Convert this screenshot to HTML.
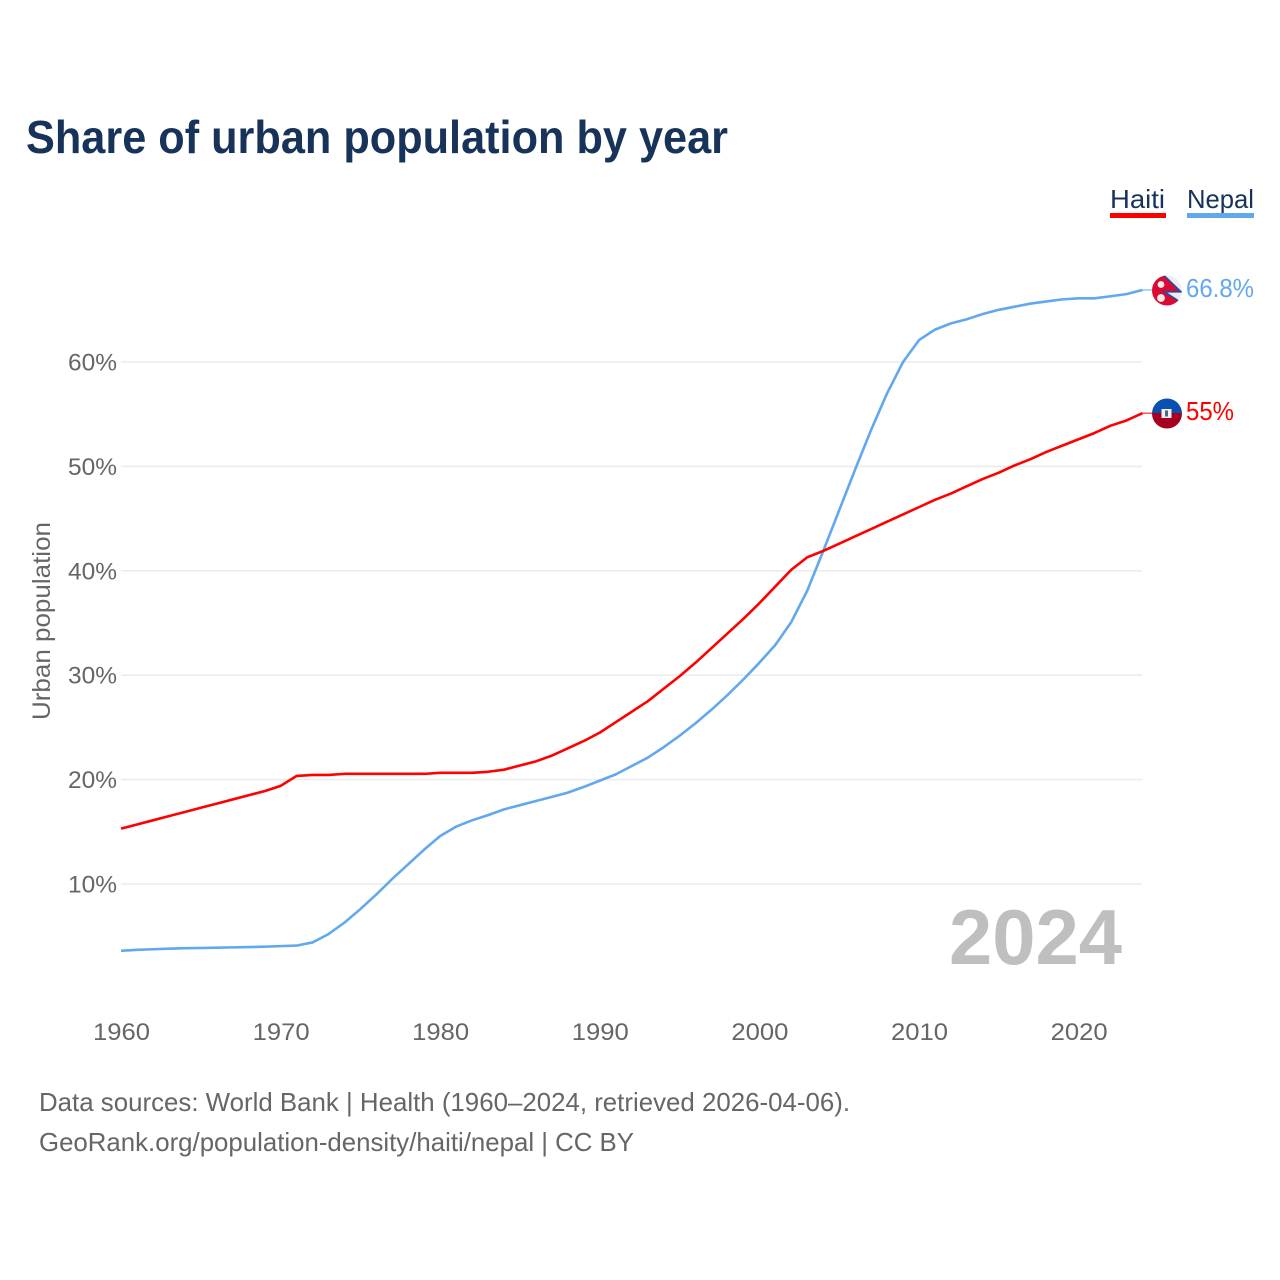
<!DOCTYPE html>
<html lang="en">
<head>
<meta charset="utf-8">
<title>Share of urban population by year</title>
<style>
html,body{margin:0;padding:0;background:#fff;width:1280px;height:1280px;overflow:hidden}
svg{display:block}
text{font-family:"Liberation Sans",sans-serif}
.tick{font-size:24px;fill:#666}
.foot{font-size:26px;fill:#666}
</style>
</head>
<body>
<svg id="chart" width="1280" height="1280" viewBox="0 0 1280 1280" xmlns="http://www.w3.org/2000/svg">
  <defs>
    <clipPath id="clip-nepal"><circle cx="1167" cy="290.5" r="15"/></clipPath>
    <clipPath id="clip-haiti"><circle cx="1167" cy="413.5" r="15"/></clipPath>
  </defs>
  <text x="26" y="153" font-size="46" font-weight="700" fill="#17335a" textLength="702" lengthAdjust="spacingAndGlyphs">Share of urban population by year</text>

  <g>
    <text x="1110" y="208" font-size="26" fill="#17335a" textLength="55" lengthAdjust="spacingAndGlyphs">Haiti</text>
    <rect x="1110" y="213" width="56" height="5" fill="#ff0000"/>
  </g>
  <g>
    <text x="1187" y="208" font-size="26" fill="#17335a" textLength="67" lengthAdjust="spacingAndGlyphs">Nepal</text>
    <rect x="1187" y="213" width="67" height="5" fill="#62a8ee"/>
  </g>

  <text transform="translate(50,621) rotate(-90)" text-anchor="middle" font-size="25" fill="#666" textLength="198" lengthAdjust="spacingAndGlyphs">Urban population</text>

  <g id="grid"></g>
  <g id="yticks"></g>
  <g id="xticks"></g>

  <text x="1122" y="964" text-anchor="end" font-size="78" font-weight="700" fill="#bfbfbf" textLength="173" lengthAdjust="spacingAndGlyphs">2024</text>

  <g id="series"></g>

  <g clip-path="url(#clip-nepal)">
    <rect x="1152" y="275" width="30" height="31" fill="#eeeeee"/>
    <path d="M1152 275 L1163.5 275 L1181 291.8 L1164.5 291.8 L1181 302.5 L1181 306 L1152 306 Z" fill="#dc0a32"/>
    <path d="M1163.5 275 L1181 291.8 L1164.5 291.8 L1181 302.5" fill="none" stroke="#1d4fa8" stroke-width="1.6"/>
    <circle cx="1161" cy="284.5" r="3.4" fill="#eeeeee"/>
    <circle cx="1161" cy="298" r="3.9" fill="#eeeeee"/>
  </g>
  <g clip-path="url(#clip-haiti)">
    <rect x="1152" y="398" width="30" height="15" fill="#0a50b0"/>
    <rect x="1152" y="413" width="30" height="16" fill="#a50020"/>
    <rect x="1161.5" y="409" width="10" height="9" fill="#f2f2f2"/>
    <rect x="1165" y="410.5" width="3" height="6" fill="#4a6a80"/>
  </g>

  <text x="1186" y="297" font-size="26" fill="#62a8ee" textLength="68" lengthAdjust="spacingAndGlyphs">66.8%</text>
  <text x="1186" y="420" font-size="26" fill="#ff0000" textLength="48" lengthAdjust="spacingAndGlyphs">55%</text>

  <text class="foot" x="39" y="1111" textLength="811" lengthAdjust="spacingAndGlyphs">Data sources: World Bank | Health (1960–2024, retrieved 2026-04-06).</text>
  <text class="foot" x="39" y="1151" textLength="595" lengthAdjust="spacingAndGlyphs">GeoRank.org/population-density/haiti/nepal | CC BY</text>
</svg>
<script>
var years = [1960,1961,1962,1963,1964,1965,1966,1967,1968,1969,1970,1971,1972,1973,1974,1975,1976,1977,1978,1979,1980,1981,1982,1983,1984,1985,1986,1987,1988,1989,1990,1991,1992,1993,1994,1995,1996,1997,1998,1999,2000,2001,2002,2003,2004,2005,2006,2007,2008,2009,2010,2011,2012,2013,2014,2015,2016,2017,2018,2019,2020,2021,2022,2023,2024];
var haitiValues = [15.3,15.7,16.1,16.5,16.9,17.3,17.7,18.1,18.5,18.9,19.4,20.35,20.45,20.45,20.55,20.55,20.55,20.55,20.55,20.55,20.65,20.65,20.65,20.75,20.95,21.35,21.75,22.3,23.0,23.7,24.5,25.5,26.5,27.5,28.7,29.9,31.2,32.6,34.0,35.4,36.9,38.5,40.1,41.3,41.9,42.6,43.3,44.0,44.7,45.4,46.1,46.8,47.4,48.1,48.8,49.4,50.1,50.7,51.4,52.0,52.6,53.2,53.9,54.4,55.1];
var nepalValues = [3.6,3.7,3.75,3.8,3.85,3.87,3.9,3.93,3.96,4.0,4.05,4.1,4.4,5.2,6.3,7.6,9.0,10.5,11.9,13.3,14.6,15.5,16.1,16.6,17.15,17.55,17.95,18.35,18.75,19.3,19.9,20.5,21.3,22.1,23.1,24.2,25.4,26.7,28.1,29.6,31.2,32.9,35.1,38.1,41.9,45.8,49.7,53.5,57.0,60.0,62.1,63.1,63.7,64.1,64.6,65.0,65.3,65.6,65.8,66.0,66.1,66.1,66.3,66.5,66.9];
var yTickValues = [10,20,30,40,50,60];
var xTickValues = [1960,1970,1980,1990,2000,2010,2020];

var NS = 'http://www.w3.org/2000/svg';
function xScale(year){ return 121 + (year - 1960) * 15.96; }
function yScale(value){ return 884 - (value - 10) * 10.44; }
function make(tag, attrs, parent){
  var el = document.createElementNS(NS, tag);
  for (var k in attrs) el.setAttribute(k, attrs[k]);
  parent.appendChild(el);
  return el;
}
var grid = document.getElementById('grid');
var yticks = document.getElementById('yticks');
var xticks = document.getElementById('xticks');
var seriesGroup = document.getElementById('series');

yTickValues.forEach(function(v){
  var line = make('line', {x1:121, x2:1142, y1:yScale(v), y2:yScale(v), stroke:'#ececec', 'stroke-width':1.6}, grid);
  
  
  var t = make('text', {x:117, y:yScale(v)+8.5, 'text-anchor':'end', 'class':'tick', textLength:49, lengthAdjust:'spacingAndGlyphs'}, yticks);
  
  
  t.textContent = v + '%';
});
xTickValues.forEach(function(y){
  var t = make('text', {x:xScale(y)+0.5, y:1040, 'text-anchor':'middle', 'class':'tick', textLength:57, lengthAdjust:'spacingAndGlyphs'}, xticks);
  
  
  t.textContent = y;
});
function drawSeries(values, color, name){
  var pts = values.map(function(v, i){ return xScale(years[i]).toFixed(2) + ',' + yScale(v).toFixed(2); });
  var lastX = xScale(years[years.length - 1]);
  var lastY = yScale(values[values.length - 1]);
  var stub = make('line', {x1:lastX, x2:lastX + 12, y1:lastY, y2:lastY, stroke:color, 'stroke-width':1}, seriesGroup);
  
  
  var line = make('polyline', {points:pts.join(' '), fill:'none', stroke:color, 'stroke-width':2.6, 'stroke-linejoin':'round'}, seriesGroup);
  
  
}
drawSeries(nepalValues, '#62a8ee', 'line-nepal');
drawSeries(haitiValues, '#ff0000', 'line-haiti');
</script>
</body>
</html>
